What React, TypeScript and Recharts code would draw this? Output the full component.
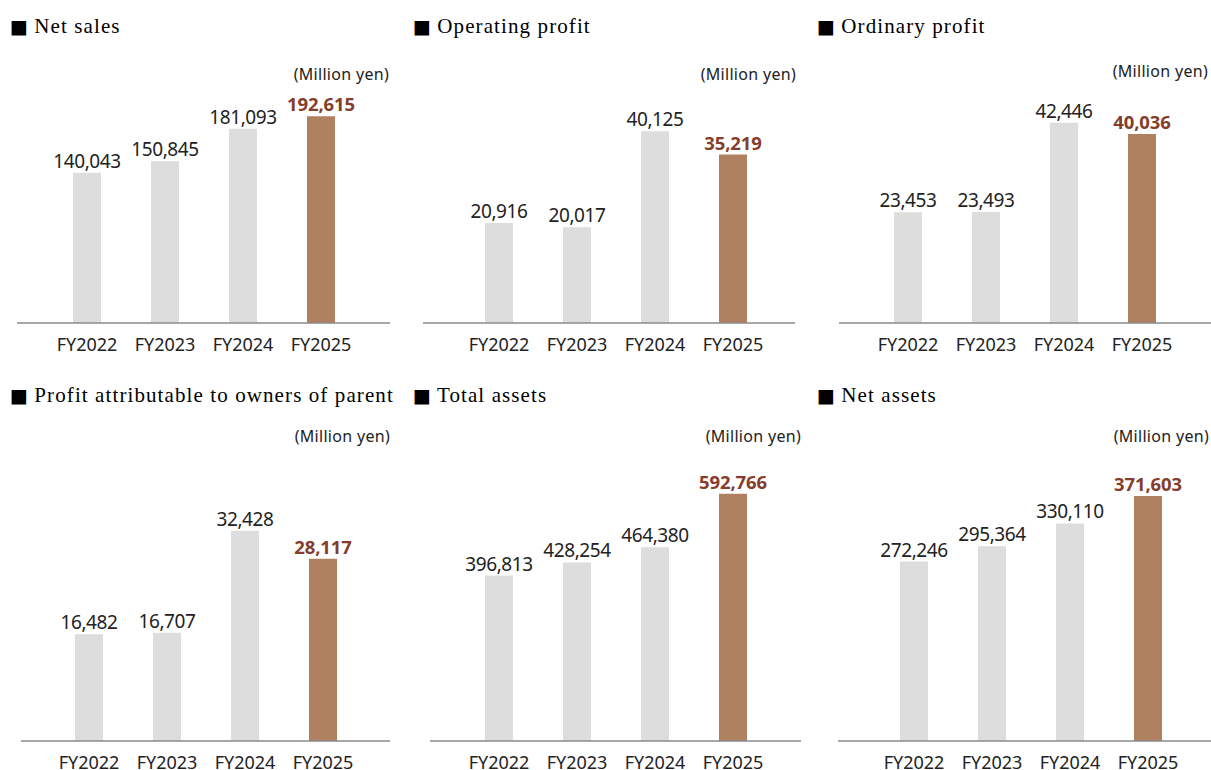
import { BarChart, Bar, XAxis, YAxis, Cell, LabelList } from 'recharts';

const categories = ['FY2022', 'FY2023', 'FY2024', 'FY2025'];

const netSales = [140043, 150845, 181093, 192615];
const operatingProfit = [20916, 20017, 40125, 35219];
const ordinaryProfit = [23453, 23493, 42446, 40036];
const profitOwners = [16482, 16707, 32428, 28117];
const totalAssets = [396813, 428254, 464380, 592766];
const netAssets = [272246, 295364, 330110, 371603];

const titles = [
  'Net sales',
  'Operating profit',
  'Ordinary profit',
  'Profit attributable to owners of parent',
  'Total assets',
  'Net assets',
];
const seriesList = [netSales, operatingProfit, ordinaryProfit, profitOwners, totalAssets, netAssets];
// top of the value axis per panel (each panel has its own scale)
const axisMax = [223700, 50200, 50850, 44750, 695400, 440000];
const unitLabel = '(Million yen)';

// layout: axis start/end x, first bar centre, baseline y, title x/baseline, unit right/baseline
const layout = [
  { x0: 17, x1: 390, c0: 87, base: 323, plotH: 240, tx: 10, tBase: 33, uRight: 389, uBase: 80 },
  { x0: 423, x1: 795, c0: 499, base: 323, plotH: 240, tx: 413, tBase: 33, uRight: 796, uBase: 80 },
  { x0: 839, x1: 1211, c0: 908, base: 323, plotH: 240, tx: 817, tBase: 33, uRight: 1208, uBase: 77 },
  { x0: 21, x1: 390, c0: 89, base: 741, plotH: 290, tx: 10, tBase: 402, uRight: 390, uBase: 442 },
  { x0: 430, x1: 801, c0: 499, base: 741, plotH: 290, tx: 413, tBase: 402, uRight: 801, uBase: 442 },
  { x0: 838, x1: 1211, c0: 914, base: 741, plotH: 290, tx: 817, tBase: 402, uRight: 1209, uBase: 442 },
];

const BAND = 78;
const GRAY = '#dcdddc';
const BROWN = '#b08160';
const BROWN_TEXT = '#853d2c';
const SANS = '"Noto Sans", sans-serif';

function Panel({ idx }: { idx: number }) {
  const lay = layout[idx];
  const values = seriesList[idx];
  const rows = categories.map((c, i) => ({ name: c, value: values[i] }));
  const last = categories.length - 1;
  const w = lay.x1 - lay.x0;
  const start = lay.c0 - BAND / 2;
  const padL = start - lay.x0;
  const padR = lay.x1 - (start + BAND * categories.length);
  const axisH = Math.min(45, 770 - lay.base);

  const renderLabel = (p: any) => {
    const { x, y, width, value, index } = p;
    const hi = index === last;
    return (
      <text
        x={x + width / 2}
        y={y - 5}
        textAnchor="middle"
        fontFamily={SANS}
        fontSize={hi ? 18.5 : 19}
        fontWeight={hi ? 700 : 400}
        letterSpacing={hi ? -0.1 : -0.4}
        fill={hi ? BROWN_TEXT : '#222'}
      >
        {Number(value).toLocaleString('en-US')}
      </text>
    );
  };

  return (
    <>
      <div
        style={{
          position: 'absolute',
          left: lay.tx,
          top: lay.tBase - 17,
          fontFamily: '"Liberation Serif", serif',
          fontSize: 21,
          lineHeight: '21px',
          letterSpacing: 1.1,
          whiteSpace: 'nowrap',
          color: '#000',
        }}
      >
        <span style={{ fontFamily: '"DejaVu Sans", sans-serif', fontSize: 19, letterSpacing: 0 }}>■</span> {titles[idx]}
      </div>
      <div
        style={{
          position: 'absolute',
          right: 1211 - lay.uRight,
          top: lay.uBase - 13,
          fontFamily: SANS,
          fontSize: 16,
          lineHeight: '14px',
          letterSpacing: 0.3,
          whiteSpace: 'nowrap',
          color: '#222',
        }}
      >
        {unitLabel}
      </div>
      <div style={{ position: 'absolute', left: lay.x0, top: lay.base - lay.plotH }}>
        <BarChart
          width={w}
          height={lay.plotH + axisH}
          data={rows}
          margin={{ top: 0, right: 0, bottom: 0, left: 0 }}
        >
          <XAxis
            dataKey="name"
            height={axisH}
            padding={{ left: padL, right: padR }}
            axisLine={{ stroke: '#8a8a8a', strokeWidth: 1.3 }}
            tickLine={false}
            tickSize={0}
            tickMargin={15}
            interval={0}
            tick={{ fontFamily: SANS, fontSize: 18, fill: '#222' }}
          />
          <YAxis hide domain={[0, axisMax[idx]]} />
          <Bar dataKey="value" barSize={28} isAnimationActive={false}>
            {rows.map((r, i) => (
              <Cell key={r.name} fill={i === last ? BROWN : GRAY} />
            ))}
            <LabelList dataKey="value" content={renderLabel} />
          </Bar>
        </BarChart>
      </div>
    </>
  );
}

export default function App() {
  return (
    <div style={{ position: 'absolute', left: 0, top: 0, width: 1211, height: 770, background: '#fff', overflow: 'hidden' }}>
      {titles.map((t, i) => (
        <Panel key={t} idx={i} />
      ))}
    </div>
  );
}
